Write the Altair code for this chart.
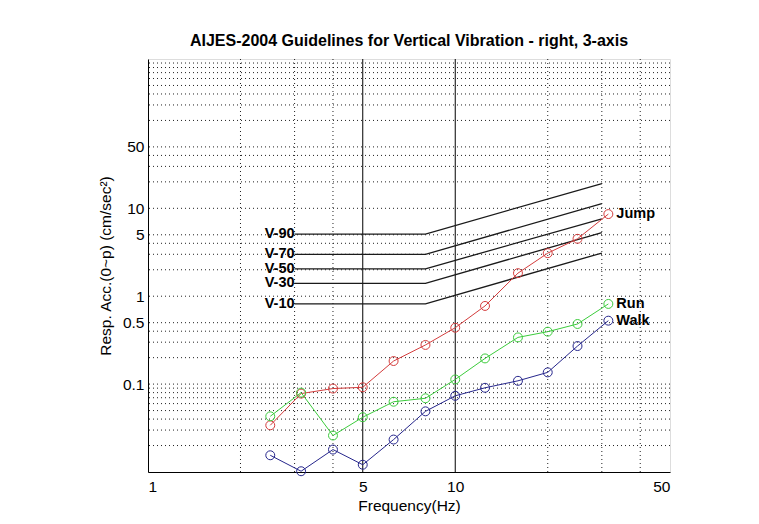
import altair as alt
import pandas as pd

# ---- data ----
freqs = [2.5, 3.15, 4, 5, 6.3, 8, 10, 12.5, 16, 20, 25, 31.5]
jump = [0.034, 0.078, 0.089, 0.092, 0.183, 0.279, 0.438, 0.775, 1.83, 3.09, 4.5, 8.6]
run = [0.043, 0.080, 0.026, 0.042, 0.063, 0.069, 0.113, 0.196, 0.34, 0.395, 0.483, 0.817]
walk = [0.0155, 0.0102, 0.018, 0.0121, 0.0234, 0.049, 0.0736, 0.0908, 0.109, 0.136, 0.271, 0.527]
series_names = ["Jump", "Run", "Walk"]
series_colors = ["#d43c3c", "#3ccc3c", "#26268c"]

v_names = ["V-90", "V-70", "V-50", "V-30", "V-10"]
v_freqs = [3, 8, 30]
v_start = [5.1, 3.0, 2.05, 1.4, 0.82]
v_bend = [5.1, 3.0, 2.05, 1.4, 0.82]
v_end = [19.1, 11.3, 7.6, 5.3, 3.1]

x_ticks = [1, 5, 10, 50]
y_ticks = [0.1, 0.5, 1, 5, 10, 50]
x_grid = [2, 3, 4, 20, 30, 40]
x_solid = [5, 10]
y_grid = [0.02, 0.03, 0.04, 0.05, 0.06, 0.07, 0.08, 0.09, 0.1,
          0.2, 0.3, 0.4, 0.5, 1, 2, 3, 4, 5, 10, 20, 30, 40, 50,
          100, 150, 200, 250, 300, 350, 400, 450]

# ---- tables ----
rows = []
for name, vals in zip(series_names, [jump, run, walk]):
    for f, v in zip(freqs, vals):
        rows.append({"s": name, "x": f, "y": v})
df = pd.DataFrame(rows)
last = df.groupby("s", as_index=False).last()

vrows = []
for n, a, b, c in zip(v_names, v_start, v_bend, v_end):
    for f, v in zip(v_freqs, [a, b, c]):
        vrows.append({"n": n, "x": f, "y": v})
vdf = pd.DataFrame(vrows)
vlab = pd.DataFrame({"n": v_names, "x": [v_freqs[0]] * len(v_names), "y": v_start})

W, H = 522, 413
FONT = "Liberation Sans"
FS = 15.5

xs = alt.Scale(type="log", domain=[1, 50], nice=False)
ys = alt.Scale(type="log", domain=[0.01, 500], nice=False)

xaxis = alt.Axis(values=x_ticks, format="~g", grid=False, domain=True, domainColor="black",
                 domainWidth=1, tickSize=0,
                 labelPadding=7, labelFontSize=FS, labelFont=FONT, labelColor="black",
                 title="Frequency(Hz)", titleFont=FONT, titleFontSize=FS,
                 titleFontWeight="normal", titleColor="black", titleY=38,
                 titleBaseline="alphabetic")
yaxis = alt.Axis(values=y_ticks, format="~g", grid=False, domain=True, domainColor="black",
                 domainWidth=1, tickSize=0,
                 labelPadding=4, labelFontSize=FS, labelFont=FONT, labelColor="black",
                 title="Resp. Acc.(0~p) (cm/sec²)", titleFont=FONT, titleFontSize=FS,
                 titleFontWeight="normal", titleColor="black", titleX=-35, titleY=H / 2,
                 titleAngle=270, titleBaseline="bottom", titleAlign="center")


def X(field="x"):
    return alt.X(f"{field}:Q", scale=xs, axis=xaxis)


def Y(field="y"):
    return alt.Y(f"{field}:Q", scale=ys, axis=yaxis)


color_scale = alt.Scale(domain=series_names, range=series_colors)

gx = alt.Chart(pd.DataFrame({"x": x_grid})).mark_rule(
    color="#222", strokeDash=[1, 3], strokeWidth=1).encode(x=X())
gy = alt.Chart(pd.DataFrame({"y": y_grid})).mark_rule(
    color="#222", strokeDash=[1, 3], strokeWidth=1).encode(y=Y())
solid = alt.Chart(pd.DataFrame({"x": x_solid})).mark_rule(
    color="black", strokeWidth=1).encode(x=X())

vlines = alt.Chart(vdf).mark_line(color="#1a1a1a", strokeWidth=1.3).encode(
    x=X(), y=Y(), detail="n:N")
vtext = alt.Chart(vlab).mark_text(align="right", baseline="middle", dx=0,
                                  fontSize=14.5, fontWeight="bold", font=FONT,
                                  color="black").encode(x=X(), y=Y(), text="n:N")

lines = alt.Chart(df).mark_line(strokeWidth=1).encode(
    x=X(), y=Y(), color=alt.Color("s:N", scale=color_scale, legend=None),
    detail="s:N")
pts = alt.Chart(df).mark_point(filled=False, size=80, strokeWidth=1, opacity=1).encode(
    x=X(), y=Y(), color=alt.Color("s:N", scale=color_scale, legend=None))
stext = alt.Chart(last).mark_text(align="left", baseline="middle", dx=8,
                                  fontSize=14.5, fontWeight="bold", font=FONT,
                                  color="black").encode(x=X(), y=Y(), text="s:N")

chart = alt.layer(gx, gy, solid, vlines, vtext, lines, pts, stext).properties(
    width=W, height=H,
    title=alt.TitleParams("AIJES-2004 Guidelines for Vertical Vibration - right, 3-axis",
                          fontSize=16, fontWeight="bold", font=FONT, color="black",
                          anchor="middle", frame="group", offset=2,
                          baseline="middle"),
    padding={"left": 140, "top": 51, "right": 20, "bottom": 50},
    autosize=alt.AutoSizeParams(type="none"),
).configure_view(stroke="black", strokeWidth=1).configure(background="white")

chart.save("out.html", embed_options={"renderer": "svg", "actions": False})
